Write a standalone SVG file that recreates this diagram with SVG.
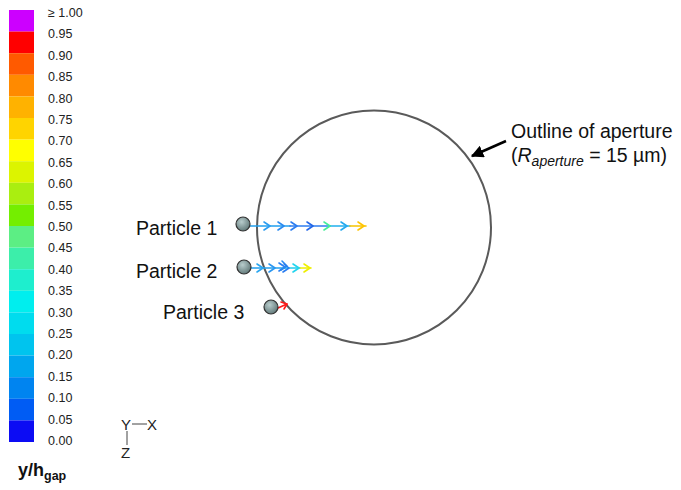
<svg xmlns="http://www.w3.org/2000/svg" width="681" height="490" viewBox="0 0 681 490">
<style>
.lg{font-family:"Liberation Sans",Arial,sans-serif;font-size:12.5px;fill:#222}
.lb{font-family:"Liberation Sans",Arial,sans-serif;font-size:19.5px;fill:#111}
.ax{font-family:"Liberation Sans",Arial,sans-serif;font-size:15px;fill:#222}
.pt{stroke:#333;stroke-width:1.2;fill:url(#pg)}
.tr{fill:none;stroke-width:1.6;stroke-linecap:round;stroke-linejoin:round}
</style>
<defs>
<radialGradient id="pg" cx="0.4" cy="0.35" r="0.7">
<stop offset="0" stop-color="#b8cccc"/>
<stop offset="1" stop-color="#5d7575"/>
</radialGradient>
<marker id="ah" viewBox="0 0 10 10" refX="9" refY="5" markerWidth="5" markerHeight="5" orient="auto">
<path d="M0,0 L10,5 L0,10 z" fill="#000"/>
</marker>
</defs>
<g id="legend">
<rect x="9" y="10" width="25" height="21.6" fill="#cc00ff"/>
<rect x="9" y="31.6" width="25" height="21.6" fill="#ff0000"/>
<rect x="9" y="53.2" width="25" height="21.6" fill="#ff5a00"/>
<rect x="9" y="74.8" width="25" height="21.6" fill="#ff8a00"/>
<rect x="9" y="96.4" width="25" height="21.6" fill="#ffb200"/>
<rect x="9" y="118" width="25" height="21.6" fill="#ffd400"/>
<rect x="9" y="139.6" width="25" height="21.6" fill="#ffff00"/>
<rect x="9" y="161.2" width="25" height="21.6" fill="#dcf400"/>
<rect x="9" y="182.8" width="25" height="21.6" fill="#aaee10"/>
<rect x="9" y="204.4" width="25" height="21.6" fill="#74ee00"/>
<rect x="9" y="226" width="25" height="21.6" fill="#5cee84"/>
<rect x="9" y="247.6" width="25" height="21.6" fill="#3ceeaa"/>
<rect x="9" y="269.2" width="25" height="21.6" fill="#1eeece"/>
<rect x="9" y="290.8" width="25" height="21.6" fill="#00eeee"/>
<rect x="9" y="312.4" width="25" height="21.6" fill="#00dcee"/>
<rect x="9" y="334" width="25" height="21.6" fill="#00c4ee"/>
<rect x="9" y="355.6" width="25" height="21.6" fill="#00a6ee"/>
<rect x="9" y="377.2" width="25" height="21.6" fill="#0084f0"/>
<rect x="9" y="398.8" width="25" height="21.6" fill="#005cf4"/>
<rect x="9" y="420.4" width="25" height="21.6" fill="#0c0cf4"/>
<text class="lg" x="48" y="17">≥ 1.00</text>
<text class="lg" x="48" y="38.4">0.95</text>
<text class="lg" x="48" y="59.8">0.90</text>
<text class="lg" x="48" y="81.2">0.85</text>
<text class="lg" x="48" y="102.6">0.80</text>
<text class="lg" x="48" y="124">0.75</text>
<text class="lg" x="48" y="145.4">0.70</text>
<text class="lg" x="48" y="166.8">0.65</text>
<text class="lg" x="48" y="188.2">0.60</text>
<text class="lg" x="48" y="209.6">0.55</text>
<text class="lg" x="48" y="231">0.50</text>
<text class="lg" x="48" y="252.4">0.45</text>
<text class="lg" x="48" y="273.8">0.40</text>
<text class="lg" x="48" y="295.2">0.35</text>
<text class="lg" x="48" y="316.6">0.30</text>
<text class="lg" x="48" y="338">0.25</text>
<text class="lg" x="48" y="359.4">0.20</text>
<text class="lg" x="48" y="380.8">0.15</text>
<text class="lg" x="48" y="402.2">0.10</text>
<text class="lg" x="48" y="423.6">0.05</text>
<text class="lg" x="48" y="445">0.00</text>
<text x="18" y="476" font-family="Liberation Sans,Arial,sans-serif" font-weight="bold" font-size="18" fill="#111">y/h<tspan font-size="12.5" dy="4">gap</tspan></text>
</g>
<g id="aperture">
<circle cx="374" cy="227.5" r="117" fill="none" stroke="#5a5a5a" stroke-width="2"/>
</g>
<g id="particle1">
<line class="tr" x1="249" y1="226" x2="290" y2="226" stroke="#22a0ee"/>
<line class="tr" x1="290" y1="226" x2="330" y2="226" stroke="#2f7ef0"/>
<line class="tr" x1="330" y1="226" x2="350" y2="226" stroke="#22b0ee"/>
<line class="tr" x1="350" y1="226" x2="366" y2="226" stroke="#f6c400"/>
<path class="tr" stroke="#2a9cf0" d="M264,222 L270,226 L264,230"/>
<path class="tr" stroke="#2a8af0" d="M278,222 L284,226 L278,230"/>
<path class="tr" stroke="#2a7cf0" d="M291,222 L297,226 L291,230"/>
<path class="tr" stroke="#2266e8" d="M307,222 L313,226 L307,230"/>
<path class="tr" stroke="#44ee99" d="M324,222 L330,226 L324,230"/>
<path class="tr" stroke="#22a8ee" d="M341,222 L347,226 L341,230"/>
<path class="tr" stroke="#ffc400" d="M358,222 L364,226 L358,230"/>
<circle class="pt" cx="243" cy="224" r="7"/>
<text class="lb" x="136" y="235">Particle 1</text>
</g>
<g id="particle2">
<line class="tr" x1="250" y1="268" x2="285" y2="268" stroke="#22a0ee"/>
<line class="tr" x1="285" y1="268" x2="300" y2="268" stroke="#22ccee"/>
<line class="tr" x1="300" y1="268" x2="311" y2="268" stroke="#f0f000"/>
<path class="tr" stroke="#2aa6f0" d="M257,264 L263,268 L257,272"/>
<path class="tr" stroke="#2a96f0" d="M269,264 L275,268 L269,272"/>
<path class="tr" stroke="#2a80f0" d="M279,263 L285,267 L279,271"/>
<path class="tr" stroke="#2a88f0" d="M282,261 L287,266 L281,270"/>
<path class="tr" stroke="#2a7cf0" d="M284,264 L289,268 L283,272"/>
<path class="tr" stroke="#22d4ee" d="M293,264 L299,268 L293,272"/>
<path class="tr" stroke="#eeee00" d="M304,264 L310,268 L304,272"/>
<circle class="pt" cx="244" cy="267" r="7"/>
<text class="lb" x="136" y="278">Particle 2</text>
</g>
<g id="particle3">
<line class="tr" x1="278" y1="308" x2="287" y2="304" stroke="#ff1a1a"/>
<path class="tr" stroke="#ff1a1a" d="M281,302 L287,304 L284,309"/>
<circle class="pt" cx="271" cy="307" r="7"/>
<text class="lb" x="163" y="319">Particle 3</text>
</g>
<g id="annotation">
<text class="lb" x="511" y="138" font-size="20.5">Outline of aperture</text>
<text class="lb" x="511" y="162">(<tspan font-style="italic">R</tspan><tspan font-style="italic" font-size="14" dy="4">aperture</tspan><tspan dy="-4"> = 15 µm)</tspan></text>
</g>
<g id="connectors">
<line x1="506" y1="141" x2="472" y2="156" stroke="#000" stroke-width="2.5" marker-end="url(#ah)"/>
</g>
<g id="axes">
<text class="ax" x="121" y="430">Y</text>
<text class="ax" x="147" y="430">X</text>
<text class="ax" x="121" y="458">Z</text>
<line x1="132" y1="424" x2="147" y2="424" stroke="#444" stroke-width="1"/>
<line x1="127" y1="431" x2="127" y2="445" stroke="#444" stroke-width="1"/>
</g>
</svg>
